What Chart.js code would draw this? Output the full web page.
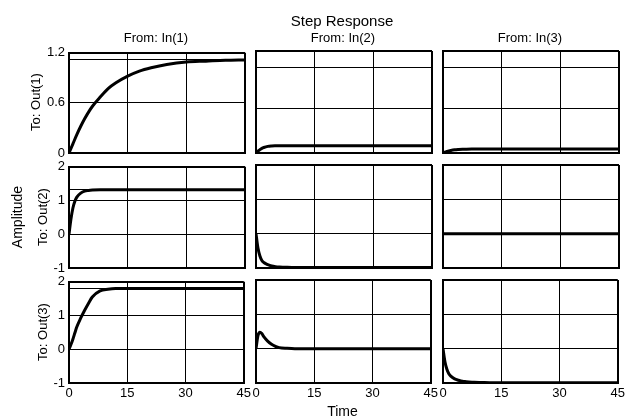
<!DOCTYPE html>
<html>
<head>
<meta charset="utf-8">
<script src="https://cdn.jsdelivr.net/npm/chart.js@4.4.1/dist/chart.umd.min.js"></script>
<style>
  body { margin: 0; background: #fff; }
  #fig { position: relative; width: 627px; height: 418px; overflow: hidden;
         font-family: 'Liberation Sans', Arial, sans-serif; color: #000; }
  #fig canvas { position: absolute; }
  .lbl { position: absolute; white-space: nowrap; line-height: 1; transform: translate(-50%, -50%); }
  .rot { transform: translate(-50%, -50%) rotate(-90deg); }
</style>
</head>
<body>
<div id="fig"></div>
<script>
// sample times (s)
const timeSlow = [0, 1, 2, 3, 4, 5, 6, 8, 10, 12, 15, 18, 21, 25, 30, 35, 40, 45];
const timeFast = [0, 0.5, 1, 1.5, 2, 3, 4, 5, 6, 8, 10, 12, 15, 20, 30, 45];

// step response of each output to each input
const out1In1 = [0, 0.11, 0.22, 0.32, 0.41, 0.49, 0.56, 0.67, 0.77, 0.84, 0.92, 0.98, 1.02, 1.06, 1.09, 1.10, 1.11, 1.115];
const out1In2 = [0, 0.02, 0.04, 0.055, 0.065, 0.078, 0.083, 0.085, 0.086, 0.086, 0.086, 0.086, 0.086, 0.086, 0.086, 0.086];
const out1In3 = [0, 0.01, 0.018, 0.025, 0.03, 0.037, 0.041, 0.044, 0.045, 0.046, 0.047, 0.047, 0.047, 0.047, 0.047, 0.047];
const out2In1 = [0, 0.45, 0.78, 0.98, 1.1, 1.22, 1.28, 1.3, 1.31, 1.32, 1.32, 1.32, 1.32, 1.32, 1.32, 1.32];
const out2In2 = [0, -0.42, -0.65, -0.78, -0.84, -0.9, -0.94, -0.96, -0.97, -0.98, -0.985, -0.985, -0.985, -0.985, -0.985, -0.985];
const out2In3 = [0, 0, 0, 0, 0, 0, 0, 0, 0, 0, 0, 0, 0, 0, 0, 0];
const out3In1 = [0, 0.14, 0.3, 0.48, 0.66, 0.92, 1.15, 1.36, 1.55, 1.73, 1.78, 1.8, 1.8, 1.8, 1.8, 1.8];
const out3In2 = [0, 0.38, 0.48, 0.44, 0.35, 0.22, 0.13, 0.07, 0.03, 0.01, 0, 0, 0, 0, 0, 0];
const out3In3 = [0, -0.38, -0.6, -0.73, -0.8, -0.88, -0.92, -0.95, -0.96, -0.98, -0.985, -0.99, -0.99, -0.99, -0.99, -0.99];

const inputNames = ['In(1)', 'In(2)', 'In(3)'];
const outputNames = ['Out(1)', 'Out(2)', 'Out(3)'];
const xTicks = [0, 15, 30, 45];
const yRange = [[0, 1.2], [-1, 2], [-1, 2]];
const yLabels = [[0, 0.6, 1.2], [-1, 0, 1, 2], [-1, 0, 1, 2]];
const yGrid = [
  [[0, 0.6, 1.12, 1.2], [0, 0.52, 1.01, 1.2], [0, 0.52, 1.01, 1.2]],
  [[-1, 0, 1, 1.32, 2], [-1, 0, 1, 2], [-1, 0, 1, 2]],
  [[-1, 0, 1, 1.8, 2], [-1, 0, 1, 2], [-1, 0, 1, 2]]
];

const responses = [
  [[timeSlow, out1In1], [timeFast, out1In2], [timeFast, out1In3]],
  [[timeFast, out2In1], [timeFast, out2In2], [timeFast, out2In3]],
  [[timeFast, out3In1], [timeFast, out3In2], [timeFast, out3In3]]
];

Chart.defaults.font.family = "'Liberation Sans', Arial, sans-serif";
Chart.defaults.font.size = 13;
Chart.defaults.color = '#000';

const fig = document.getElementById('fig');
const colLeft = [69, 256, 443];
const plotW = 176;
const rowTop = [51, 165, 280];
const rowH = [102, 103, 103];
const padL = 40, padT = 10, padR = 9, padB = 22;

function label(text, x, y, size, rotated) {
  const d = document.createElement('div');
  d.className = rotated ? 'lbl rot' : 'lbl';
  d.textContent = text;
  d.style.left = x + 'px';
  d.style.top = y + 'px';
  d.style.fontSize = size + 'px';
  fig.appendChild(d);
}

for (let r = 0; r < 3; r++) {
  for (let c = 0; c < 3; c++) {
    const [times, vals] = responses[r][c];
    const [lo, hi] = yRange[r];
    const grid = yGrid[r][c];
    const w = plotW + padL + padR;
    const h = rowH[r] + padT + padB;
    const cv = document.createElement('canvas');
    cv.width = w; cv.height = h;
    cv.style.width = w + 'px'; cv.style.height = h + 'px';
    cv.style.left = (colLeft[c] - padL) + 'px';
    cv.style.top = (rowTop[r] - padT) + 'px';
    fig.appendChild(cv);

    new Chart(cv, {
      type: 'line',
      data: {
        datasets: [{
          data: times.map((t, i) => ({ x: t, y: vals[i] })),
          borderColor: '#000',
          borderWidth: 3,
          pointRadius: 0,
          cubicInterpolationMode: 'monotone',
          fill: false
        }]
      },
      options: {
        responsive: false,
        animation: false,
        events: [],
        layout: { padding: { top: padT, right: padR, left: 0, bottom: 0 } },
        plugins: { legend: { display: false }, tooltip: { enabled: false } },
        scales: {
          x: {
            type: 'linear', min: 0, max: 45,
            afterBuildTicks: s => { s.ticks = xTicks.map(v => ({ value: v })); },
            afterFit: s => { s.height = padB; },
            ticks: { display: r === 2, autoSkip: false, maxRotation: 0, padding: 3 },
            grid: { color: '#000', drawTicks: false,
                    lineWidth: ctx => (ctx.tick && (ctx.tick.value === 0 || ctx.tick.value === 45)) ? 2 : 1 },
            border: { color: '#000', width: 2 }
          },
          y: {
            type: 'linear', min: lo, max: hi,
            afterBuildTicks: s => { s.ticks = grid.map(v => ({ value: v })); },
            afterFit: s => { s.width = padL; },
            ticks: { display: c === 0, autoSkip: false, padding: 4,
                     callback: v => yLabels[r].includes(v) ? String(v) : '' },
            grid: { color: '#000', drawTicks: false,
                    lineWidth: ctx => (ctx.tick && (ctx.tick.value === lo || ctx.tick.value === hi)) ? 2 : 1 },
            border: { color: '#000', width: 2 }
          }
        }
      }
    });
  }
}

// titles and axis labels
label('Step Response', 342, 20, 15);
for (let c = 0; c < 3; c++) {
  label('From: ' + inputNames[c], colLeft[c] + plotW / 2 - 1, 37, 13);
}
const outX = [35, 42, 42];
for (let r = 0; r < 3; r++) {
  label('To: ' + outputNames[r], outX[r], rowTop[r] + rowH[r] / 2, 13, true);
}
label('Amplitude', 17, 217, 14, true);
label('Time', 342.5, 411, 14);
</script>
</body>
</html>
